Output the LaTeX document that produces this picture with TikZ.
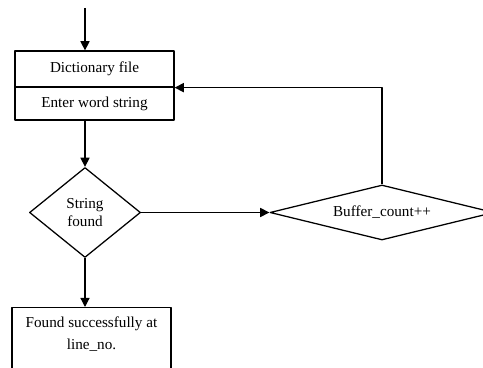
\documentclass[tikz,border=0pt]{standalone}
\usepackage{fontspec}
\setmainfont{Liberation Serif}
\usepackage{tikz}
\usetikzlibrary{shapes,arrows.meta}

\tikzset{
  stepbox/.style={draw, rectangle, inner sep=0, minimum width=3.975cm, align=center},
  decision/.style={draw, diamond, inner sep=0, align=center},
  flow/.style={-{Triangle[length=6.5pt,width=6.5pt]}}
}

\begin{document}
\begin{tikzpicture}[x=0.025cm, y=-0.025cm, line join=round, line width=0.9pt,
  font=\fontsize{10.8}{13}\selectfont]

\useasboundingbox (0,0) rectangle (483,368);

\coordinate (start) at (85,8);

\node (dict) at (94.5,69) [stepbox, minimum height=0.9cm] {Dictionary file};
\node (enter) at (94.5,103.5) [stepbox, minimum height=0.825cm] {Enter word string};

\node (strfound) at (85,212.5) [decision, minimum width=2.775cm, minimum height=2.25cm] {String\\found};
\node (buffer) at (382,212.5) [decision, aspect=4, minimum width=5.6cm, minimum height=1.375cm] {Buffer\_count++};

\node (found) at (91.5,307) [stepbox, anchor=north, minimum height=2cm] {};
\node (foundtext) at (91.5,334) [align=center, font=\fontsize{10.8}{15.5}\selectfont] {Found successfully at\\line\_no.};

\draw[flow] (start) -- (start |- dict.north);
\draw[flow] (strfound.north |- enter.south) -- (strfound.north);
\draw[flow] (strfound.east) -- (buffer.west);
\draw[flow] (buffer.north) |- (dict.south east);
\draw[flow] (strfound.south) -- (strfound.south |- found.north);

\end{tikzpicture}
\end{document}
